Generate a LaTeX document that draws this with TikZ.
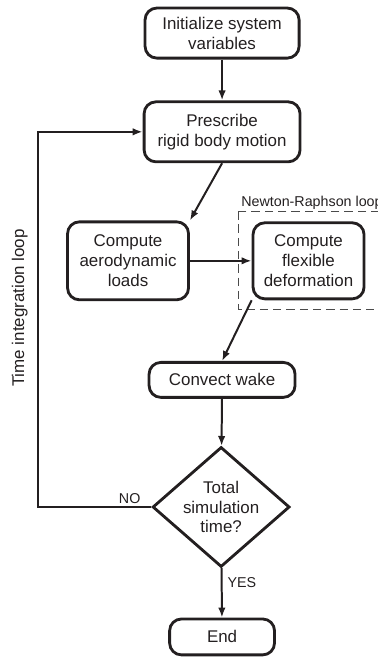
\documentclass[tikz,border=0pt]{standalone}
\usepackage{fontspec}
\setmainfont{Liberation Sans}
\usetikzlibrary{shapes.geometric, arrows.meta}
\definecolor{flowInk}{HTML}{231f20}
\definecolor{flowDash}{HTML}{4a4a4a}
\tikzset{
    procbox/.style={draw=flowInk, line width=1.7pt, rounded corners=0.25cm, align=center, inner sep=0pt, text=flowInk, font=\fontsize{10.2}{12}\selectfont},
    decision/.style={draw=flowInk, line width=1.7pt, diamond, align=center, inner sep=-2pt, text=flowInk, font=\fontsize{10.2}{12}\selectfont, minimum width=2.9cm, minimum height=2.54cm},
    flow/.style={-{Latex[length=6pt, width=4.5pt]}, line width=1.2pt, flowInk},
    smalltext/.style={text=flowInk, font=\fontsize{8.6}{10}\selectfont}
}

\begin{document}
\begin{tikzpicture}
    \useasboundingbox (0, 0) rectangle (8, -13.926);
    \clip (0, 0) rectangle (8, -13.926);

    \node[procbox, minimum width=3.26cm, minimum height=1.06cm] (init) at (4.70, -0.70) {Initialize system\\variables};
    \node[procbox, minimum width=3.30cm, minimum height=1.27cm] (prescribe) at (4.70, -2.79) {Prescribe\\rigid body motion};
    \node[procbox, minimum width=2.56cm, minimum height=1.65cm] (aero) at (2.71, -5.52) {Compute\\aerodynamic\\loads};
    \node[procbox, minimum width=2.35cm, minimum height=1.61cm] (flex) at (6.53, -5.52) {Compute\\flexible\\deformation};
    \node[procbox, minimum width=3.09cm, minimum height=0.74cm] (convect) at (4.70, -8.04) {Convect wake};
    \node[decision] (simtime) at (4.68, -10.73) {Total\\simulation\\time?};
    \node[procbox, minimum width=2.22cm, minimum height=0.76cm] (finish) at (4.70, -13.48) {End};

    % Newton-Raphson loop
    \draw[flowDash, line width=0.6pt, dash pattern=on 5pt off 3pt] (5.04, -4.47) rectangle (8.4, -6.54);
    \node[smalltext, anchor=base west, inner sep=0pt] (nrlabel) at (5.10, -4.38) {Newton-Raphson loop};

    \draw[flow] (init) -- (prescribe);
    \draw[flow] (prescribe.south) -- (aero.north east);
    \draw[flow] (aero) -- (flex);
    \draw[flow] (flex.south west) -- (convect.north);
    \draw[flow] (convect) -- (simtime);
    \draw[flow] (simtime) -- node[smalltext, pos=0.29, right, inner sep=3pt]{YES} (finish);

    % time integration loop
    \coordinate (loopbottom) at (0.80, -10.73);
    \coordinate (looptop) at (0.80, -2.79);
    \draw[flow] (simtime.west) -- node[smalltext, pos=0.19, above, inner sep=1.5pt]{NO} (loopbottom) -- (looptop) -- (prescribe.west);
    \node[text=flowInk, font=\fontsize{10.2}{12}\selectfont, rotate=90] (looplabel) at (0.42, -6.52) {Time integration loop};
\end{tikzpicture}
\end{document}
